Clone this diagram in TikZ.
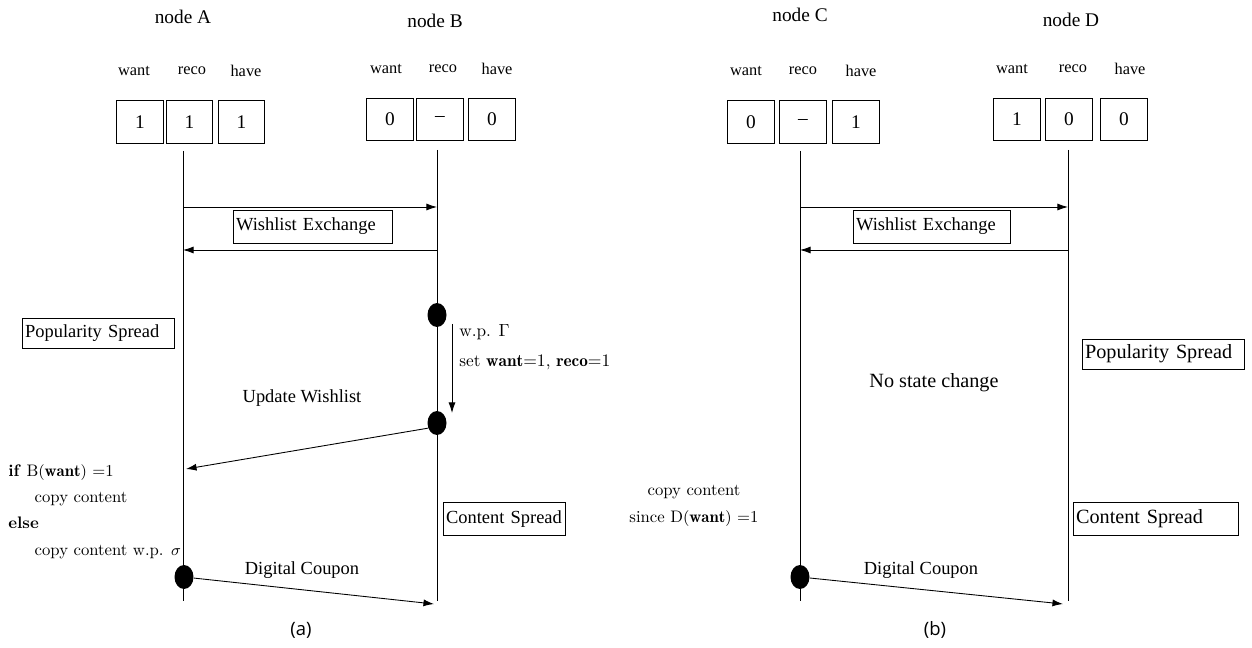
\documentclass[tikz,border=0pt]{standalone}
\usepackage{amsmath}
\usepackage{amssymb}
\usepackage{fontspec}
\newfontfamily\tnr{Liberation Serif}
\newfontfamily\capfont{Open Sans}
\usepackage{tikz}
\usetikzlibrary{shapes.geometric, arrows.meta, positioning}
\tikzstyle{msg} = [line width=0.5pt,-{Latex[length=6pt,width=4pt]}]
\tikzstyle{life} = [line width=0.5pt]
\tikzstyle{cell} = [draw, line width=0.5pt, minimum width=0.93cm, minimum height=0.85cm, inner sep=0pt, font=\tnr\fontsize{11}{13}\selectfont]
\tikzstyle{field} = [font=\tnr\fontsize{9.3}{11}\selectfont]
\tikzstyle{title} = [font=\tnr\fontsize{11}{13}\selectfont]
\tikzstyle{phase} = [draw, line width=0.5pt, anchor=west, inner xsep=1.5pt, inner ysep=0pt, align=left, font=\tnr\fontsize{10.5}{12}\selectfont]
\tikzstyle{dot} = [fill, ellipse, minimum width=0.38cm, minimum height=0.48cm, inner sep=0pt]
\tikzstyle{note} = [font=\fontsize{9.5}{15}\selectfont, align=left, inner sep=0pt]

\begin{document}
\begin{tikzpicture}[x=0.02cm, y=-0.02cm]
\useasboundingbox (0,0) rectangle (1252,648);

%%%%%%%%%% (a) %%%%%%%%%%
% Node names
\node[title] (nameA) at (183,17) {node A};
\node[title] (nameB) at (435,21) {node B};

% State of node A
\node[field] (aWantL) at (134,71) {want};
\node[field] (aRecoL) at (192,71) {reco};
\node[field] (aHaveL) at (246,71) {have};
\node[cell] (aWant) at (140,122) {1};
\node[cell] (aReco) at (189.5,122) {1};
\node[cell] (aHave) at (241.5,122) {1};

% State of node B
\node[field] (bWantL) at (386,69) {want};
\node[field] (bRecoL) at (443,69) {reco};
\node[field] (bHaveL) at (497,69) {have};
\node[cell] (bWant) at (390,119.5) {0};
\node[cell] (bReco) at (440,119.5) {\textendash};
\node[cell] (bHave) at (492,119.5) {0};

% Lifelines
\coordinate (aTop) at (183,151);
\coordinate (aBot) at (183,601);
\coordinate (bTop) at (437,150);
\coordinate (bBot) at (437,601);
\draw[life] (aTop) -- (aBot);
\draw[life] (bTop) -- (bBot);

% Wishlist exchange
\coordinate (a1) at (183,207);
\coordinate (b1) at (437,207);
\coordinate (a2) at (183,250);
\coordinate (b2) at (437,250);
\draw[msg] (a1) -- (b1);
\draw[msg] (b2) -- (a2);
\node[phase, text width=3.07cm, minimum height=0.66cm] (exA) at (233,226.5) {Wishlist Exchange};

% Popularity spread
\node[phase, text width=2.93cm, minimum height=0.6cm] (popA) at (22,333) {Popularity Spread};
\node[dot] (bDot1) at (437,315) {};
\node[dot] (bDot2) at (437,423) {};
\coordinate (wpTop) at (452,324);
\coordinate (wpBot) at (452,413);
\draw[msg] (wpTop) -- (wpBot);
\node[note, anchor=west, font=\fontsize{9.8}{17}\selectfont] (wp) at (459,347) {w.p. $\Gamma$\\set $\mathbf{want}{=}1$, $\mathbf{reco}{=}1$};

% Update wishlist
\coordinate (a3) at (186,469);
\draw[msg] (bDot2.210) -- (a3);
\node[title, font=\tnr\fontsize{10.5}{12}\selectfont] (updA) at (302,398) {Update Wishlist};

% Rule at node A
\node[note, anchor=north west] (ruleA) at (8,464) {\textbf{if} B$(\mathbf{want})$ =1\\\hspace*{15pt}copy content\\\textbf{else}\\\hspace*{15pt}copy content w.p. $\sigma$};

% Content spread
\node[phase, text width=2.33cm, minimum height=0.66cm] (conA) at (443,519) {Content Spread};
\node[dot] (aDot) at (184,577) {};
\coordinate (bEnd) at (434,604);
\draw[msg] (aDot) -- (bEnd);
\node[title, font=\tnr\fontsize{10.5}{12}\selectfont] (cpA) at (302,570) {Digital Coupon};

\node[font=\capfont\fontsize{10.5}{12}\selectfont] (capA) at (301,630) {(a)};

%%%%%%%%%% (b) %%%%%%%%%%
% Node names
\node[title] (nameC) at (800,15) {node C};
\node[title] (nameD) at (1071,20) {node D};

% State of node C
\node[field] (cWantL) at (746,71) {want};
\node[field] (cRecoL) at (803,71) {reco};
\node[field] (cHaveL) at (861,71) {have};
\node[cell] (cWant) at (751,122) {0};
\node[cell] (cReco) at (803,122) {\textendash};
\node[cell] (cHave) at (856,122) {1};

% State of node D
\node[field] (dWantL) at (1012,69) {want};
\node[field] (dRecoL) at (1073,69) {reco};
\node[field] (dHaveL) at (1130,69) {have};
\node[cell] (dWant) at (1017,119.5) {1};
\node[cell] (dReco) at (1069,119.5) {0};
\node[cell] (dHave) at (1124,119.5) {0};

% Lifelines
\coordinate (cTop) at (800,151);
\coordinate (cBot) at (800,601);
\coordinate (dTop) at (1068,150);
\coordinate (dBot) at (1068,601);
\draw[life] (cTop) -- (cBot);
\draw[life] (dTop) -- (dBot);

% Wishlist exchange
\coordinate (c1) at (800,207);
\coordinate (d1) at (1068,207);
\coordinate (c2) at (800,250);
\coordinate (d2) at (1068,250);
\draw[msg] (c1) -- (d1);
\draw[msg] (d2) -- (c2);
\node[phase, text width=3.03cm, minimum height=0.66cm] (exB) at (853,226.5) {Wishlist Exchange};

% Popularity spread
\node[phase, text width=3.13cm, minimum height=0.6cm, font=\tnr\fontsize{11.5}{13}\selectfont] (popB) at (1082,354) {Popularity Spread};
\node[title, font=\tnr\fontsize{11.5}{13}\selectfont] (noChg) at (934,383) {No state change};

% Rule at node C
\node[note, align=center] (ruleC) at (694,506) {copy content\\since D$(\mathbf{want})$ =1};

% Content spread
\node[phase, text width=3.19cm, minimum height=0.66cm, font=\tnr\fontsize{11.5}{13}\selectfont] (conB) at (1073,519) {Content Spread};
\node[dot] (cDot) at (800,577) {};
\coordinate (dEnd) at (1063,604);
\draw[msg] (cDot) -- (dEnd);
\node[title, font=\tnr\fontsize{10.5}{12}\selectfont] (cpB) at (921,570) {Digital Coupon};

\node[font=\capfont\fontsize{10.5}{12}\selectfont] (capB) at (935,630) {(b)};
\end{tikzpicture}
\end{document}
